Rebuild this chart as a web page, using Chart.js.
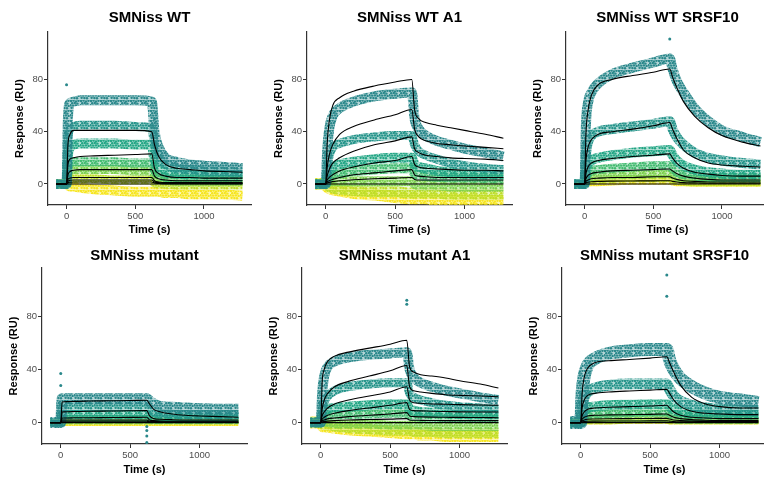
<!DOCTYPE html>
<html><head><meta charset="utf-8">
<script src="https://cdn.jsdelivr.net/npm/chart.js@4.4.1/dist/chart.umd.min.js"></script>
<style>
html,body{margin:0;padding:0;background:#fff;width:764px;height:480px;overflow:hidden;position:relative}
canvas{position:absolute}
</style></head><body>
<script>
// ---- shared axis values ----
const TIME = [-75,0,10,25,50,100,200,350,500,620,640,670,720,800,900,1000,1150,1280];
const X_TICKS = [0,500,1000];
const Y_TICKS = [0,40,80];
const TITLES = ['SMNiss WT','SMNiss WT A1','SMNiss WT SRSF10','SMNiss mutant','SMNiss mutant A1','SMNiss mutant SRSF10'];

// ---- measured response bands (RU) per panel, one row per concentration ----
const wtData = [
 [0,0,50,62,63,64,64,64,64,63,40,28,20,17,15,14,13,12],
 [0,0,35,42,44,45,45,45,44,43,30,20,15,12,11,10,9.5,9],
 [0,0,22,28,30,31,31,31,30,30,18,12,9,8,7,7,6,6],
 [0,0,12,16,17,17,17,17,16,16,10,7,5,4,4,3.5,3,3],
 [0,0,7,10,11,11,11,11,10,10,6,4,3,2,2,2,2,2],
 [0,0,3,4,4,4,4,3,3,3,1,0,0,-1,-1,-1,-1,-1],
 [0,0,-1,-2,-2,-3,-4,-5,-6,-6,-6,-6,-7,-7,-8,-8,-8,-9]];
const wtFit = [
 [0,0,30,38,41,41,41,41,41,40,30,21,15,12,11,10,9.5,9],
 [0,0,15,19,20,21,21.5,22,22.5,23,12,8,6,5,5,4.5,4.5,4.5],
 [0,0,7,9.5,10.5,11,11,11,11,11,6,4,3,2.5,2.5,2.5,2.5,2.5],
 [0,0,3.5,4.5,5,5,5,5,5,5,2.5,1.5,1,1,1,1,1,1],
 [0,0,2,2.8,3,3,3,3,3,3,1.5,1,0.5,0.5,0.5,0.5,0.5,0.5],
 [0,0,1,1.3,1.5,1.5,1.5,1.5,1.5,1.5,0.7,0.4,0.2,0.2,0.2,0.2,0.2,0.2],
 [0,0,0,0,0,0,0,0,0,0,0,0,0,0,0,0,0,0]];
const wtOut = [[0,76],[640,50]];

const wtA1Data = [
 [0,0,25,42,52,58,63,67,69,70,50,42,37,33,30,27,24,21],
 [0,0,12,22,28,31,34,36,37,37,30,25,22,19,16,14,12,11],
 [0,0,6,10,13,15,17,19,20,20,15,13,12,10,9,8,7,7],
 [0,0,3,5,7,8,10,11,12,12,8,7,6,5.5,5,5,4.5,4],
 [0,0,1,2,2,2,2,2,2,2,0,-1,-1,-1,-2,-2,-2,-2],
 [0,0,-1,-2,-3,-4,-5,-6,-6,-7,-7,-7,-7,-7,-8,-8,-8,-8],
 [0,0,-2,-3,-4,-5,-7,-8,-10,-11,-11,-11,-11,-12,-12,-12,-13,-13]];
const wtA1Fit = [
 [0,0,30,48,60,66,71,75,78,80,57,50,47,45,43,41,38,35],
 [0,0,12,22,30,38,44,49,53,57,42,36,33,31,30,29,28,27],
 [0,0,6,11,16,20,25,30,33,36,27,24,22,21,20,19.5,19,18],
 [0,0,3,5,7,10,13,16,18,21,15,13,12,11.5,11,10.5,10.5,10],
 [0,0,1.5,2.5,3.5,5,7,8.5,10,11,7,6,5.5,5,5,5,5,5],
 [0,0,0.8,1.2,1.8,2.5,3.2,4,4.5,5,3.5,3,3,3,3,3,3,3],
 [0,0,0,0,0,0,0,0,0,0,0,0,0,0,0,0,0,0]];
const wtA1Out = [];

const wtSrData = [
 [0,0,45,62,70,77,84,89,93,96,88,79,70,58,48,41,36,32],
 [0,0,22,32,37,40,42,44,46,48,42,36,30,24,20,18,16,15],
 [0,0,10,15,18,20,22,24,25,26,22,18,14,11,9,8,7,7],
 [0,0,5,8,10,11,12,13,14,14,12,9,7,6,5,5,5,4.5],
 [0,0,3,4,5,6,6.5,7,7.5,8,7,5,4,3.5,3,3,3,3],
 [0,0,1,2,2.5,3,3.5,4,4,4,3,2,1.5,1,1,1,1,1],
 [0,0,0,0.5,1,1,1.5,2,2,2,1.5,1,1,0.5,0.5,0.5,0.5,0.5]];
const wtSrFit = [
 [0,0,38,56,68,76,80,83,85.5,88,82,74,63,52,43,37,32,29],
 [0,0,18,28,34,38,40,42,44.5,47,42,35,26,20,16,14.5,13.5,13],
 [0,0,8,13,16,18,19.5,21,22,23,20,16,12,9,7.5,6.5,6,6],
 [0,0,4,6.5,8,9,10,10.5,11,11.5,10,8,6,4.5,3.5,3,3,3],
 [0,0,2,3,4,4.5,5,5,5.5,5.5,4.5,3.5,2.5,2,1.5,1.5,1.5,1.5],
 [0,0,0.8,1.3,1.7,2,2.2,2.3,2.4,2.5,2,1.5,1,0.8,0.6,0.6,0.6,0.6],
 [0,0,0,0,0,0,0,0,0,0,0,0,0,0,0,0,0,0]];
const wtSrOut = [[620,111]];

const mutData = [
 [0,0,18,18,18,18,18,18,18,18,16,14,12,11.5,11,10.5,10,10],
 [0,0,12,12,12,12,12,12,12,12,10,8,7,6.5,6,6,6,6],
 [0,0,6,6,6,6,6,6,6,6,5,4.5,4,4,4,4,4,4],
 [0,0,3,3,3,3,3,3,3,3,2.5,2,2,2,2,2,2,2],
 [0,0,1,1,1,1,1,1,1,1,1,1,1,1,1,1,1,1],
 [0,0,0.5,0.5,0.5,0.5,0.5,0.5,0.5,0.5,0.5,0.5,0.5,0.5,0.5,0.5,0.5,0.5],
 [0,0,-1,-1,-1,-1,-1,-1,-1,-1,-1,-1,-1,-1,-1,-1,-1,-1]];
const mutFit = [
 [0,0,15.5,15.7,15.8,16,16.2,16.4,16.6,16.8,14,10,8,6.5,5.5,5,4.5,4],
 [0,0,8,8.1,8.2,8.3,8.5,8.7,8.9,9,5,3,2.5,2.2,2,2,2,2],
 [0,0,3.5,3.5,3.5,3.6,3.7,3.8,3.9,4,2,1.5,1.2,1,1,1,1,1],
 [0,0,2,2,2,2,2,2,2,2,1,0.8,0.6,0.5,0.5,0.5,0.5,0.5],
 [0,0,1,1,1,1,1,1,1,1,0.5,0.4,0.3,0.3,0.3,0.3,0.3,0.3],
 [0,0,0,0,0,0,0,0,0,0,0,0,0,0,0,0,0,0]];
const mutOut = [[0,37],[0,28],[620,-15],[620,-10],[620,-6],[620,-3]];

const mutA1Data = [
 [0,0,22,35,42,46,49,51,52,53,40,34,30,27,24,22,19,17],
 [0,0,10,16,20,24,27,29,30,30,22,19,17,15,13,12,11,10],
 [0,0,5,8,10,11,12,13,14,14,10,9,8,7.5,7,6.5,6,6],
 [0,0,2,4,5,5.5,6,6.5,7,7,5,4.5,4,4,3.5,3.5,3,3],
 [0,0,0,0,0,-1,-1,-1,-2,-2,-2,-2,-2,-3,-3,-3,-3,-3],
 [0,0,-1,-2,-2,-3,-4,-5,-6,-6,-6,-7,-7,-7,-8,-8,-8,-8],
 [0,0,-2,-3,-3,-4,-5,-6,-7,-8,-8,-8,-9,-9,-10,-10,-10,-10]];
const mutA1Fit = [
 [0,0,30,40,46,50,53,56,59,62,42,38,36,35,33.5,31.5,29,26],
 [0,0,10,17,22,27,31,35,39,43,27,24,23,22,21,20.5,20,19.5],
 [0,0,5,8,11,14,17,20,23,27,17,15,14.5,14,13.8,13.5,13.2,13],
 [0,0,2.5,4,5.5,7,9,11,13,15,10,9,8.8,8.5,8.3,8.1,8,8],
 [0,0,1.2,2,2.8,3.5,4.5,5.5,6.5,7.5,5,4.5,4.3,4.1,4,3.9,3.8,3.7],
 [0,0,0.5,0.8,1.1,1.5,2,2.3,2.6,3,2,1.8,1.7,1.6,1.5,1.5,1.5,1.5],
 [0,0,0,0,0,0,0,0,0,0,0,0,0,0,0,0,0,0]];
const mutA1Out = [[620,92],[620,89]];

const mutSrData = [
 [0,0,22,35,43,48,52,54,55,55,47,40,33,27,22,19,17,15],
 [0,0,12,19,23,26,28,29,29,29,25,20,16,13,11,10,9.5,9],
 [0,0,6,9,11,12,13,13.5,14,14,12,10,8,7,6.5,6,6,6],
 [0,0,3,5,6,6.5,7,7.5,8,8,7,6,5,4.5,4,4,4,4],
 [0,0,1,2,2.5,3,3,3.5,3.5,3.5,3,2.5,2,2,2,2,2,2],
 [0,0,0.5,1,1,1,1,1.5,1.5,1.5,1,1,1,1,1,1,1,1],
 [0,0,0,0.5,0.5,0.5,0.5,1,1,1,0.5,0.5,0.5,0.5,0.5,0.5,0.5,0.5]];
const mutSrFit = [
 [0,0,22,34,41,45,46.5,47.5,48.5,49.5,45,38,28,19,14,12,11,11],
 [0,0,11,17,20.5,22,23,23.8,24.4,25,22,17,12,8.5,7,6.5,6,6],
 [0,0,5,8,10,11,11.5,12,12.5,13,11,8,5.5,4,3.5,3,3,3],
 [0,0,2.5,4,5,5.5,5.8,6,6.2,6.5,5.5,4,3,2.2,1.8,1.6,1.5,1.5],
 [0,0,1.2,2,2.5,2.7,2.9,3,3.1,3.2,2.7,2,1.5,1.1,0.9,0.8,0.8,0.8],
 [0,0,0.5,0.8,1,1.1,1.2,1.2,1.3,1.3,1.1,0.8,0.6,0.5,0.4,0.4,0.4,0.4],
 [0,0,0,0,0,0,0,0,0,0,0,0,0,0,0,0,0,0]];
const mutSrOut = [[620,111],[620,95]];

// ---- styling ----
const COLORS = ['#2A888B','#24948A','#23A685','#42BB70','#7DD14F','#BDDE2A','#F6E51F'];
const FONT = '"Liberation Sans", Arial, sans-serif';

// speckled texture so a band reads like a cloud of sensor points
const DOTS = [[1,1],[3.5,0.5],[6,1.5],[8.5,0.8],[2.2,3.2],[4.8,3],[7.4,3.6],[0.4,5.2],[3.2,5.6],
              [5.9,5.4],[8.6,5.9],[1.6,7.8],[4.4,8],[7,8.2]];
function speckle(color){
  const c = document.createElement('canvas'); c.width = 10; c.height = 10;
  const g = c.getContext('2d');
  g.fillStyle = color; g.globalAlpha = 0.35; g.fillRect(0,0,10,10);
  g.globalAlpha = 1;
  DOTS.forEach(d => { g.beginPath(); g.arc(d[0], d[1], 1.2, 0, Math.PI*2); g.fill(); });
  return g.createPattern(c, 'repeat');
}

const panels = [
 {data: wtData,    fit: wtFit,    out: wtOut,    w:[10,9,10,9,9,9,10]},
 {data: wtA1Data,  fit: wtA1Fit,  out: wtA1Out,  w:[10,9,10,10,10,11,12]},
 {data: wtSrData,  fit: wtSrFit,  out: wtSrOut,  w:[10,10,10,9,8,7,7]},
 {data: mutData,   fit: mutFit,   out: mutOut,   w:[11,9,9,7,6,5,4]},
 {data: mutA1Data, fit: mutA1Fit, out: mutA1Out, w:[10,9,10,9,9,10,12]},
 {data: mutSrData, fit: mutSrFit, out: mutSrOut, w:[13,11,10,9,8,6,5]}
];
const rows = [
 {top:0,   plotTop:32, xAxisH:35, plotW:205, axisX:[48,306.7,565.7], titlePad:[9.3,4.7]},
 {top:240, plotTop:28, xAxisH:36, plotW:207, axisX:[41.7,301.7,561.7], titlePad:[6.7,3.3]}
];

function pts(vals){ return TIME.map((t,i)=>({x:t,y:vals[i]})); }

panels.forEach((p, k) => {
  const row = rows[Math.floor(k/3)];
  const col = k % 3;
  const cv = document.createElement('canvas');
  const W = 48 + row.plotW + 2, H = 240;
  cv.width = W; cv.height = H;
  cv.style.left = (row.axisX[col] - 48) + 'px';
  cv.style.top = row.top + 'px';
  cv.style.width = W + 'px'; cv.style.height = H + 'px';
  document.body.appendChild(cv);

  const ds = [];
  p.fit.forEach(f => ds.push({type:'line', data: pts(f), borderColor:'#000', borderWidth:1.1,
      pointRadius:0, cubicInterpolationMode:'monotone', fill:false}));
  ds.push({type:'scatter', data: p.out.map(a=>({x:a[0],y:a[1]})), backgroundColor:COLORS[0],
      borderWidth:0, pointRadius:1.5});
  p.data.forEach((d, i) => ds.push({type:'line', data: pts(d), borderColor: speckle(COLORS[i]),
      borderWidth: p.w[i], borderCapStyle:'butt', borderJoinStyle:'round',
      pointRadius:0, cubicInterpolationMode:'monotone', fill:false}));

  new Chart(cv, {
    type:'line',
    data:{datasets: ds},
    options:{
      responsive:false, animation:false, devicePixelRatio:1,
      layout:{padding:{top:0,left:0,right:2,bottom:0}},
      plugins:{legend:{display:false}, tooltip:{enabled:false},
        title:{display:true, text:TITLES[k], fullSize:false, color:'#000',
          font:{family:FONT, size:15, weight:'bold'}, padding:{top:row.titlePad[0], bottom:row.titlePad[1]}}},
      scales:{
        x:{type:'linear', min:-135, max:1342,
          afterBuildTicks: s => { s.ticks = X_TICKS.map(v=>({value:v})); },
          afterFit: s => { s.height = row.xAxisH; },
          ticks:{font:{family:FONT,size:9.5}, color:'#4d4d4d', padding:2, maxRotation:0, autoSkip:false,
            callback: v => String(v)},
          grid:{display:true, drawOnChartArea:false, drawTicks:true, tickLength:4, tickColor:'#333', tickWidth:1},
          border:{display:true, color:'#333', width:1.2},
          title:{display:true, text:'Time (s)', color:'#000', font:{family:FONT,size:11,weight:'bold'}, padding:{top:0,bottom:3}}},
        y:{type:'linear', min:-16.1, max:116.3,
          afterBuildTicks: s => { s.ticks = Y_TICKS.map(v=>({value:v})); },
          afterFit: s => { s.width = 48; },
          ticks:{font:{family:FONT,size:9.5}, color:'#4d4d4d', padding:1, autoSkip:false,
            callback: v => String(v)},
          grid:{display:true, drawOnChartArea:false, drawTicks:true, tickLength:4, tickColor:'#333', tickWidth:1},
          border:{display:true, color:'#333', width:1.2},
          title:{display:true, text:'Response (RU)', color:'#000', font:{family:FONT,size:11,weight:'bold'}, padding:{top:13,bottom:0}}}
      }
    }
  });
});
</script>
</body></html>
